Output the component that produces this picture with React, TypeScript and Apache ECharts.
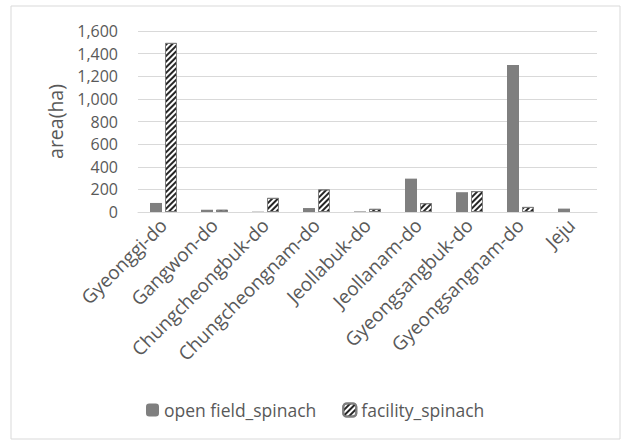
import React, { useEffect, useRef } from "react";
import * as echarts from "echarts";

const categories = [
  "Gyeonggi-do",
  "Gangwon-do",
  "Chungcheongbuk-do",
  "Chungcheongnam-do",
  "Jeollabuk-do",
  "Jeollanam-do",
  "Gyeongsangbuk-do",
  "Gyeongsangnam-do",
  "Jeju",
];
const openField = [80, 20, 3, 35, 5, 295, 175, 1300, 30];
const facility = [1495, 20, 125, 200, 28, 78, 185, 45, null];
const seriesNames = ["open field_spinach", "facility_spinach"];

const FONT = "Open Sans";
const TXT = "#595959";

export default function App() {
  const ref = useRef<HTMLDivElement>(null);
  useEffect(() => {
    const chart = echarts.init(ref.current!, undefined, { renderer: "svg" });
    chart.setOption({
      animation: false,
      backgroundColor: "#ffffff",
      textStyle: { fontFamily: FONT, color: TXT },
      graphic: [
        {
          type: "rect",
          shape: { x: 11, y: 6, width: 609, height: 433 },
          style: { fill: "none", stroke: "#d9d9d9", lineWidth: 1 },
          silent: true,
        },
      ],
      grid: { left: 138, right: 24, top: 31, bottom: 229, containLabel: false },
      legend: {
        top: 396,
        left: 141,
        itemWidth: 13,
        itemHeight: 13,
        itemGap: 26,
        textStyle: { fontFamily: FONT, fontSize: 17.5, color: TXT },
        data: seriesNames,
      },
      xAxis: {
        type: "category",
        data: categories,
        axisLine: { lineStyle: { color: "#d9d9d9", width: 1 } },
        axisTick: { show: false },
        axisLabel: {
          rotate: 45,
          interval: 0,
          hideOverlap: false,
          margin: 10,
          fontFamily: FONT,
          fontSize: 19,
          color: TXT,
        },
      },
      yAxis: {
        type: "value",
        min: 0,
        max: 1600,
        interval: 200,
        name: "area(ha)",
        nameLocation: "middle",
        nameGap: 73,
        nameTextStyle: { fontFamily: FONT, fontSize: 19.5, color: TXT },
        axisLine: { show: false },
        axisTick: { show: false },
        splitLine: { lineStyle: { color: "#d9d9d9", width: 1 } },
        axisLabel: {
          fontFamily: FONT,
          fontSize: 16,
          color: TXT,
          margin: 20,
          formatter: (v: number) => v.toLocaleString("en-US"),
        },
      },
      series: [
        {
          name: seriesNames[0],
          type: "bar",
          data: openField,
          barWidth: 12,
          barGap: "25%",
          itemStyle: { color: "#7f7f7f" },
        },
        {
          name: seriesNames[1],
          type: "bar",
          data: facility,
          barWidth: 12,
          itemStyle: {
            color: "#ffffff",
            borderColor: "#7f7f7f",
            borderWidth: 1,
            decal: {
              symbol: "rect",
              symbolSize: 1,
              dashArrayX: [1, 0],
              dashArrayY: [2, 2],
              rotation: -Math.PI / 4,
              color: "#262626",
              backgroundColor: null,
            },
          },
        },
      ],
    });
    return () => chart.dispose();
  }, []);
  return (
    <div
      ref={ref}
      style={{ position: "fixed", left: 0, top: 0, width: 621, height: 441 }}
    />
  );
}
